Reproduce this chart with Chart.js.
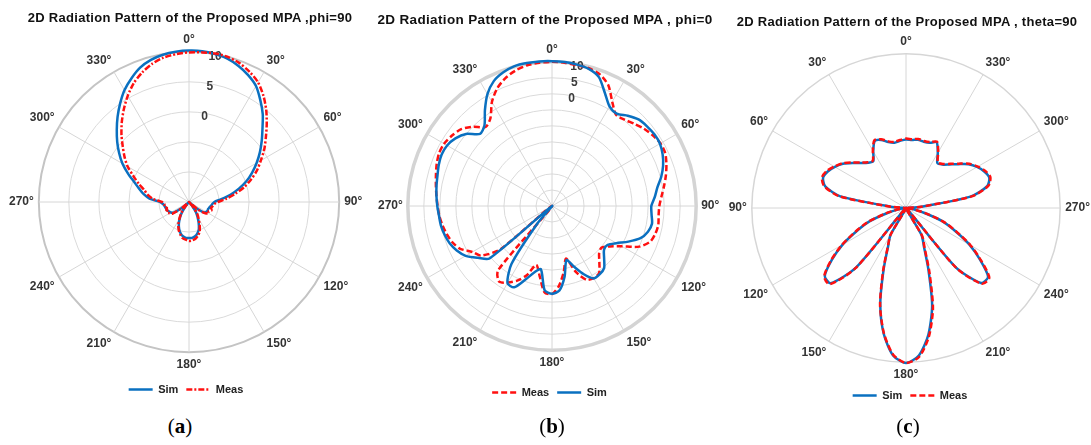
<!DOCTYPE html>
<html>
<head>
<meta charset="utf-8">
<script src="https://cdn.jsdelivr.net/npm/chart.js@4.4.0/dist/chart.umd.min.js"></script>
<style>
  body { margin: 0; width: 1091px; height: 445px; overflow: hidden; background: #fff; position: relative; }
  canvas.panel { position: absolute; top: 0; }
  .title { position: absolute; width: 400px; height: 14px; line-height: 14px; text-align: center; white-space: nowrap;
           font-family: "Liberation Sans", Arial, sans-serif; font-weight: bold; font-size: 13px;
           letter-spacing: 0.3px; color: #111; }
  .caption { position: absolute; top: 414px; width: 60px; text-align: center;
             font-family: "Liberation Serif", "DejaVu Serif", serif; font-size: 21px; color: #000; }
</style>
</head>
<body>
<canvas id="chartA" class="panel" width="380" height="405" style="left:0px"></canvas>
<canvas id="chartB" class="panel" width="375" height="410" style="left:365px"></canvas>
<canvas id="chartC" class="panel" width="376" height="415" style="left:720px"></canvas>
<div class="title" style="left:-10px; top:11px">2D Radiation Pattern of the Proposed MPA ,phi=90</div>
<div class="title" style="left:345px; top:13px; font-size:13.5px; letter-spacing:0.35px">2D Radiation Pattern of the Proposed MPA , phi=0</div>
<div class="title" style="left:707px; top:15px">2D Radiation Pattern of the Proposed MPA , theta=90</div>
<div class="caption" style="left:150px">(<b>a</b>)</div>
<div class="caption" style="left:522px">(<b>b</b>)</div>
<div class="caption" style="left:878px">(<b>c</b>)</div>

<script>
// angle of each sample (deg), 5 deg apart, labelled every 30
var angles = [0, 5, 10, 15, 20, 25, 30, 35, 40, 45, 50, 55, 60, 65, 70, 75, 80, 85,
  90, 95, 100, 105, 110, 115, 120, 125, 130, 135, 140, 145, 150, 155, 160, 165, 170, 175,
  180, 185, 190, 195, 200, 205, 210, 215, 220, 225, 230, 235, 240, 245, 250, 255, 260, 265,
  270, 275, 280, 285, 290, 295, 300, 305, 310, 315, 320, 325, 330, 335, 340, 345, 350, 355];

// gain in dB at each angle above

// (a) phi=90 cut
var simA = [10.2, 10.2, 10.0, 9.7, 9.1, 8.3, 7.3, 5.7, 4.1, 2.3, 0.8, -0.6, -2.0, -3.4, -4.8, -6.4, -8.0, -9.6,
  -10.8, -11.1, -11.3, -11.5, -11.6, -11.6, -11.7, -12.0, -13.3, -15, -14.3, -13.0, -12.2, -11.2, -10.2, -9.6, -9.2, -9.0,
  -9.0, -9.0, -9.2, -9.6, -10.2, -11.0, -12.0, -13.0, -14.3, -15, -13.5, -12.0, -11.5, -11.3, -11.1, -11.0, -10.9, -10.7,
  -10.2, -8.4, -7.3, -6.4, -5.3, -3.8, -2.2, -0.8, 0.6, 2.0, 3.5, 5.0, 6.5, 7.7, 8.8, 9.5, 9.9, 10.1];
var measA = [9.9, 10.0, 10.1, 10.0, 9.6, 8.9, 8.0, 6.6, 5.0, 3.3, 1.7, 0.3, -1.2, -2.5, -4.0, -5.5, -7.2, -8.8,
  -10.2, -10.8, -11.0, -11.2, -11.0, -11.4, -11.2, -11.8, -13.0, -15, -14.0, -12.6, -11.8, -10.8, -9.8, -9.2, -8.8, -8.6,
  -8.5, -8.7, -8.9, -9.4, -10.0, -10.8, -11.8, -12.8, -14.0, -15, -13.2, -11.6, -11.2, -11.4, -11.0, -11.2, -10.8, -10.9,
  -10.5, -9.0, -8.0, -7.3, -6.1, -4.8, -3.2, -1.9, -0.6, 0.9, 2.4, 3.9, 5.4, 6.8, 7.9, 8.8, 9.4, 9.7];

// (b) phi=0 cut
var measB = [10.0, 9.9, 9.6, 9.5, 8.7, 6.6, 2.6, -0.2, 0.2, 1.3, 2.5, 3.4, 4.1, 4.0, 3.0, 1.8, 0.5, -0.7,
  -1.5, -1.6, -1.3, -1.6, -2.4, -5.0, -9.8, -13.0, -14.8, -14.2, -12.0, -9.4, -9.0, -9.6, -13.0, -18.0, -14.0, -10.0,
  -7.5, -8.0, -12.8, -16.0, -12.0, -9.3, -7.4, -6.2, -8.8, -35, -14.0, -8.0, -6.3, -3.4, -1.9, -1.0, -0.3, 0.3,
  0.7, 1.2, 1.8, 2.5, 3.3, 3.9, 3.9, 3.2, 2.2, 0.0, -2.8, -1.5, 2.5, 5.5, 7.5, 8.8, 9.6, 9.9];
var simB = [10.2, 10.1, 9.8, 9.3, 7.8, 4.0, 0.9, 0.2, 1.8, 3.2, 3.7, 4.0, 3.9, 3.1, 1.9, 0.3, -1.6, -2.8,
  -4.0, -3.8, -3.3, -4.0, -5.6, -8.7, -11.8, -13.8, -13.8, -12.0, -9.7, -9.0, -8.9, -11.5, -14.8, -17.5, -12.5, -8.5,
  -7.6, -8.6, -15.0, -13.5, -10.5, -7.0, -7.2, -13.0, -28, -35, -9.5, -6.8, -3.9, -2.2, -1.0, -0.3, 0.2, 0.4,
  0.8, 1.2, 1.6, 2.0, 2.6, 3.0, 2.8, 1.8, 0.0, -3.2, -2.2, 1.5, 5.3, 8.0, 9.4, 10.2, 10.3, 10.3];

// (c) theta=90 cut, angles counted anticlockwise
var simC = [-12.2, -12.5, -12.8, -12.3, -11.2, -10.8, -13.0, -15.2, -14.7, -13.5, -11.8, -10.0, -8.7, -7.6, -7.1, -8.3, -12.7, -26,
  -30, -30, -28, -25, -20, -16, -11, -6.5, -2.5, -2.4, -10, -30, -22, -19, -13, -4.2, 3.2, 8.4,
  10.2, 8.4, 3.4, -3.8, -13, -19, -22, -30, -10, -2.5, -2.2, -6.5, -11, -16, -20, -25, -28, -30,
  -30, -26, -13, -8.2, -7.0, -7.6, -8.7, -10.2, -12.3, -14.0, -15.3, -15.8, -13.5, -11.2, -12.0, -12.2, -12.0, -12.3];
var measC = [-12.0, -12.3, -12.6, -12.1, -11.0, -10.6, -12.8, -15.0, -14.5, -13.3, -11.6, -9.8, -8.5, -7.3, -6.8, -8.0, -12.4, -26,
  -30, -30, -28, -24.6, -19.6, -15.6, -10.8, -6.2, -2.3, -2.0, -9.6, -30, -22, -18.8, -12.6, -4.0, 3.0, 8.2,
  10.2, 8.8, 4.0, -3.0, -12.2, -18.6, -21.6, -30, -9.6, -2.2, -1.8, -6.2, -10.7, -15.7, -19.7, -24.7, -28, -30,
  -30, -26, -12.7, -7.9, -6.7, -7.3, -8.5, -10.0, -12.1, -13.8, -15.1, -15.6, -13.3, -11.0, -11.8, -12.0, -11.8, -12.1];

var ringTicks = [0, 5, 10];

var BLUE = '#0a70c0';
var RED = '#ff1010';
var FONT = '"Liberation Sans", Arial, sans-serif';

Chart.defaults.font.family = FONT;
Chart.defaults.color = '#333';

// writes the dB values of the rings along the 10 deg spoke
var ringLabels = {
  id: 'ringLabels',
  beforeDatasetsDraw: function(chart, args, opts) {
    if (!opts.values) return;
    var scale = chart.scales.r;
    var ctx = chart.ctx;
    ctx.save();
    ctx.font = 'bold 12px ' + FONT;
    ctx.fillStyle = '#3a3a3a';
    ctx.textAlign = 'center';
    ctx.textBaseline = 'middle';
    opts.values.forEach(function(v) {
      var p = scale.getPointPositionForValue(opts.spoke, v);
      ctx.fillText(String(v), p.x, p.y + 3);
    });
    ctx.restore();
  }
};

// lower "order" is painted on top
function simSet(data, top) {
  return { label: 'Sim', data: data, borderColor: BLUE, borderWidth: 2.5, order: top ? 0 : 1 };
}
function measSet(data, dash, top) {
  return { label: 'Meas', data: data, borderColor: RED, borderWidth: 2.5, borderDash: dash, order: top ? 0 : 1 };
}

function buildPolar(id, cfg) {
  var n = angles.length;
  var labels, order;
  if (cfg.anticlockwise) {
    // going round clockwise on screen the angle decreases
    order = angles.map(function(a, i) { return (n - i) % n; });
  } else {
    order = angles.map(function(a, i) { return i; });
  }
  labels = order.map(function(k) { return angles[k] + '\u00b0'; });
  var datasets = cfg.datasets.map(function(ds) {
    ds.data = order.map(function(k) { return ds.data[k]; });
    return ds;
  });

  return new Chart(document.getElementById(id), {
    type: 'radar',
    data: { labels: labels, datasets: datasets },
    plugins: [ringLabels],
    options: {
      responsive: false,
      animation: false,
      layout: { padding: cfg.padding },
      elements: {
        point: { radius: 0, hitRadius: 0 },
        line: { tension: 0.25, fill: false }
      },
      scales: {
        r: {
          min: cfg.min,
          max: 10,
          ticks: { stepSize: 5, display: false },
          grid: {
            circular: true,
            color: function(c) { return c.index === cfg.rings ? cfg.outerColor : '#dadada'; },
            lineWidth: function(c) {
              if (c.index === cfg.rings) return cfg.outerWidth;
              return cfg.innerRings ? 1 : 0;
            }
          },
          angleLines: {
            color: '#d6d6d6',
            lineWidth: function(c) { return c.index % 6 === 0 ? 1 : 0; }
          },
          pointLabels: {
            display: true,
            padding: 5,
            color: '#333',
            font: { size: 12, weight: 'bold' },
            callback: function(label, i) { return i % 6 === 0 ? label : ''; }
          }
        }
      },
      plugins: {
        ringLabels: cfg.ringValues ? { values: cfg.ringValues, spoke: 2 } : {},
        tooltip: { enabled: false },
        title: { display: false },
        legend: {
          position: 'bottom',
          labels: {
            usePointStyle: true,
            pointStyle: 'line',
            pointStyleWidth: 24,
            padding: 8,
            color: '#222',
            font: { size: 11, weight: 'bold' },
            generateLabels: function(chart) {
              var items = Chart.defaults.plugins.legend.labels.generateLabels(chart);
              items.forEach(function(item) {
                var ds = chart.data.datasets[item.datasetIndex];
                item.pointStyle = 'line';
                item.strokeStyle = ds.borderColor;
                item.lineDash = ds.borderDash || [];
                item.lineWidth = 2.5;
              });
              items.sort(function(a, b) {
                return cfg.legend.indexOf(a.text) - cfg.legend.indexOf(b.text);
              });
              return items;
            }
          }
        }
      }
    }
  });
}

// titles sit in the page above each canvas, so the top padding leaves room for them
buildPolar('chartA', {
  padding: { top: 29.4, left: 6, right: 14, bottom: 0 },
  min: -15, rings: 5, innerRings: true,
  outerColor: '#c4c4c4', outerWidth: 2,
  ringValues: ringTicks,
  legend: ['Sim', 'Meas'],
  datasets: [simSet(simA, false), measSet(measA, [6, 2, 2, 2], true)]
});

buildPolar('chartB', {
  padding: { top: 34.4, left: 10, right: 16, bottom: 2 },
  min: -35, rings: 9, innerRings: true,
  outerColor: '#d4d4d4', outerWidth: 3.5,
  ringValues: ringTicks,
  legend: ['Meas', 'Sim'],
  datasets: [measSet(measB, [6, 3], false), simSet(simB, true)]
});

buildPolar('chartC', {
  padding: { top: 34.4, left: 6, right: 2, bottom: 4 },
  min: -30, rings: 8, innerRings: false,
  outerColor: '#d6d6d6', outerWidth: 1.5,
  anticlockwise: true,
  legend: ['Sim', 'Meas'],
  datasets: [simSet(simC, false), measSet(measC, [6, 3], true)]
});
</script>
</body>
</html>
